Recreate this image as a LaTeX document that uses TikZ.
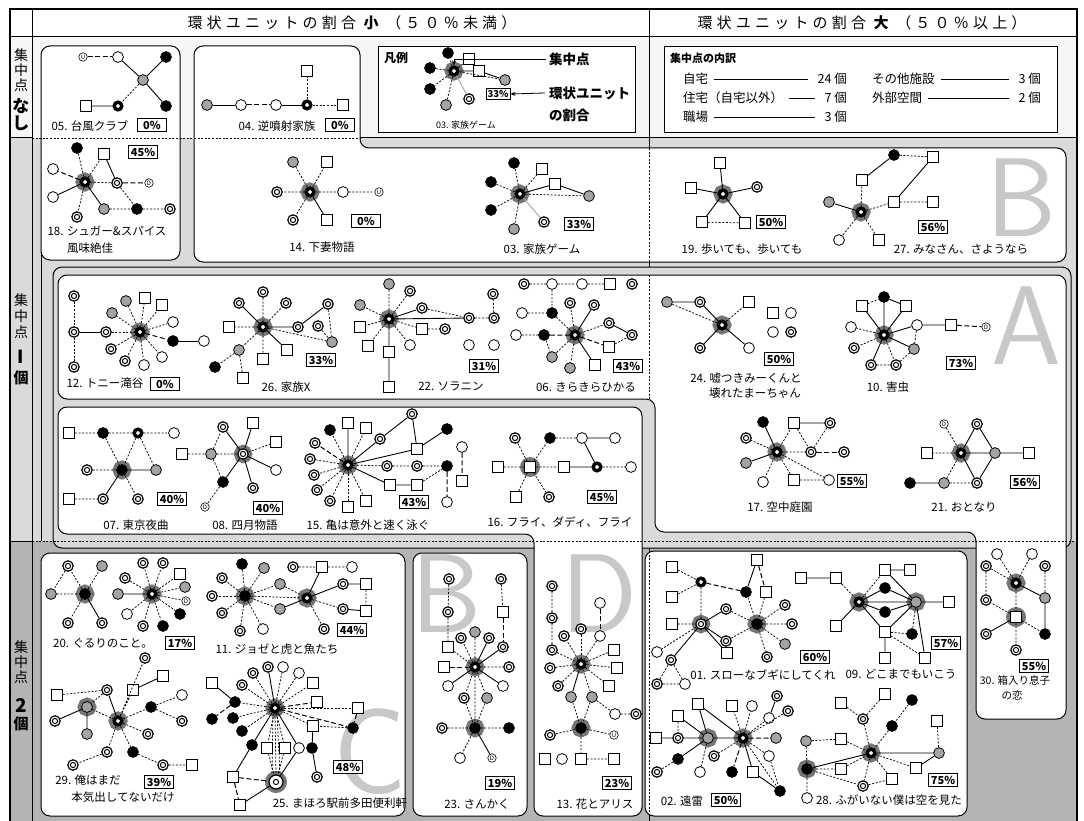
\documentclass[tikz,border=0pt]{standalone}
\usepackage{fontspec}
\setmainfont{Noto Sans CJK JP}
\newfontfamily\hdr[LetterSpace=28]{Noto Sans CJK JP}
\usetikzlibrary{arrows.meta}
\definecolor{lbg}{HTML}{DADADA}
\definecolor{dbg}{HTML}{B4B4B4}
\definecolor{tbg}{HTML}{F6F6F6}
\definecolor{haloc}{HTML}{767676}
\definecolor{gfill}{HTML}{A4A4A4}
\definecolor{letc}{HTML}{C8C8C8}
\tikzset{
 nbase/.style={circle, draw=black, line width=0.8pt, minimum size=10.8pt, inner sep=0pt},
 wc/.style={nbase, fill=white},
 gc/.style={nbase, fill=gfill},
 bc/.style={nbase, fill=black},
 dc/.style={circle, draw=black, line width=1.2pt, minimum size=10.4pt, inner sep=0pt, fill=white,
   path picture={\draw[line width=1pt] (path picture bounding box.center) circle (2.6pt);}},
 sq/.style={rectangle, draw=black, line width=0.8pt, minimum size=11pt, inner sep=0pt, fill=white},
 lc/.style={circle, draw=black, line width=0.6pt, minimum size=8.5pt, inner sep=0pt, fill=white, font=\fontsize{6}{6}\selectfont},
 br/.style={circle, draw=black, line width=3.4pt, minimum size=7.6pt, inner sep=0pt, fill=white},
 ctr/.style={br, preaction={draw=haloc, line width=11pt}},
 bctr/.style={bc, preaction={draw=haloc, line width=8pt}},
 gctr/.style={gc, preaction={draw=haloc, line width=8pt}},
 dctr/.style={dc, preaction={draw=haloc, line width=8pt}},
 sl/.style={line width=0.9pt},
 ds/.style={line width=0.75pt, dash pattern=on 2pt off 1.6pt},
 ld/.style={line width=1pt, dash pattern=on 5pt off 2.5pt},
 gl/.style={line width=0.9pt, draw=gfill},
 capt/.style={font=\fontsize{11.5}{12}\selectfont, inner sep=0pt},
 pct/.style={draw=black, line width=0.8pt, fill=white, font=\bfseries\fontsize{11}{11}\selectfont, inner sep=0pt, minimum width=29pt, minimum height=13pt},
 panel/.style={draw=black, line width=1pt, fill=white, rounded corners=9pt},
 bigl/.style={text=letc, font=\sffamily\fontsize{112}{112}\selectfont, inner sep=0pt},
 vt/.style={font=\fontsize{14}{14}\selectfont, inner sep=0pt},
 vb/.style={font=\bfseries\fontsize{17}{17}\selectfont, inner sep=0pt},
 ent/.style={font=\fontsize{12.5}{13}\selectfont, inner sep=0pt},
 lgl/.style={font=\bfseries\fontsize{13.5}{14}\selectfont, inner sep=0pt, anchor=west},
}
\begin{document}
\begin{tikzpicture}[x=1pt,y=-1pt]
\useasboundingbox (0,0) rectangle (1084,821);
\clip (0,0) rectangle (1084,821);
\fill[white] (0,0) rectangle (1084,821);
\fill[tbg] (10,37) rectangle (1077,138);
\fill[lbg] (10,138) rectangle (1077,541);
\fill[dbg] (10,541) rectangle (1077,830);
% grid
\draw[line width=1.2pt] (10,830) -- (10,9) -- (1077,9) -- (1077,830);
\draw[line width=1pt] (10,37) -- (1077,37);
\draw[line width=1pt] (32,9) -- (32,830);
\draw[line width=1pt] (649,9) -- (649,830);
\draw[line width=1pt] (41,255) -- (41,541);
% panels
\draw[panel] (41,46) rectangle (180,260);
\draw[panel] (194,46) -- (360,46) -- (360,148) -- (1066,148) -- (1066,262) -- (194,262) -- cycle;
\draw[line width=0.8pt, fill=white] (378,46) rectangle (635,132);
\draw[line width=0.8pt, fill=white] (664,46) rectangle (1057,132);
\draw[line width=1pt, fill=lbg, rounded corners=9pt] (53,267) rectangle (1071,548);
\draw[panel] (58,275) -- (1066,275) -- (1066,719) -- (976,719) -- (976,532) -- (655,532) -- (655,399) -- (58,399) -- cycle;
\draw[panel] (58,407) -- (642,407) -- (642,816) -- (534,816) -- (534,534) -- (58,534) -- cycle;
\draw[panel] (41,553) rectangle (405,816);
\draw[panel] (413,553) rectangle (527,816);
\draw[panel] (645,551) rectangle (967,816);
% separators
\draw[line width=1pt] (10,138) -- (32,138);
\draw[ds] (32,138) -- (360,138);
\draw[line width=1pt] (360,138) -- (1077,138);
\draw[line width=1pt] (10,541) -- (32,541);
\draw[ds] (32,541) -- (1077,541);
\draw[ds] (649,148) -- (649,262);
\draw[ds] (649,275) -- (649,399);
\draw[ds] (649,551) -- (649,816);
% big letters
\node[bigl] (LB1) at (1022,198) {B};
\node[bigl] (LA) at (1026,326) {A};
\node[bigl] (LB2) at (447,594) {B};
\node[bigl] (LD) at (599,594) {D};
\node[bigl, font=\sffamily\fontsize{122}{122}\selectfont] (LC) at (370,752) {C};
% headers
\node[font=\hdr\fontsize{15}{15}\selectfont, inner sep=0pt] (hdrL) at (352,23) {環状ユニットの割合 {\bfseries 小} （５０％未満）};
\node[font=\hdr\fontsize{15}{15}\selectfont, inner sep=0pt] (hdrR) at (862,23) {環状ユニットの割合 {\bfseries 大} （５０％以上）};
% left column
\node[vt] (v1a) at (21,55) {集};
\node[vt] (v1b) at (21,70) {中};
\node[vt] (v1c) at (21,85) {点};
\node[vb] (v1d) at (21,106) {な};
\node[vb] (v1e) at (21,123) {し};
\node[vt] (v2a) at (21,300) {集};
\node[vt] (v2b) at (21,316) {中};
\node[vt] (v2c) at (21,332) {点};
\node[vb, font=\bfseries\fontsize{18}{18}\selectfont] (v2d) at (21,357) {I};
\node[vt, font=\bfseries\fontsize{15}{15}\selectfont] (v2e) at (21,378) {個};
\node[vt] (v3a) at (21,647) {集};
\node[vt] (v3b) at (21,662) {中};
\node[vt] (v3c) at (21,677) {点};
\node[vb, font=\bfseries\fontsize{19}{19}\selectfont] (v3d) at (21,705) {2};
\node[vt, font=\bfseries\fontsize{15}{15}\selectfont] (v3e) at (21,724) {個};
% legend
\node[font=\bfseries\fontsize{12}{12}\selectfont, inner sep=0pt] (lgt) at (396,58) {凡例};
\node[ctr] (l0) at (454,71) {};
\node[bc] (l1) at (448,53) {};
\node[bc] (l2) at (430,68) {};
\node[bc] (l3) at (430,89) {};
\node[gc] (l4) at (446,105) {};
\node[sq] (l5) at (469,59) {};
\node[sq] (l6) at (479,71) {};
\node[gc] (l7) at (505,80) {};
\node[dc] (l8) at (469,99) {};
\foreach \t in {l1,l2,l3,l4,l5,l7} \draw[ds] (l0) -- (\t);
\draw[sl] (l0) -- (l6) -- (l7);
\draw[gl] (l0) -- (l8);
\node[pct, font=\bfseries\fontsize{9.5}{9.5}\selectfont, minimum width=24pt, minimum height=11pt] (plg) at (498,94) {33\%};
\node[lgl] (lbl1) at (549,59) {集中点};
\node[lgl] (lbl2) at (549,93) {環状ユニット};
\node[lgl] (lbl3) at (549,115) {の割合};
\node[font=\fontsize{9}{9}\selectfont, inner sep=0pt] (lgc) at (466,125) {03. 家族ゲーム};
\draw[line width=0.8pt, -{Stealth[length=5pt,width=4pt]}] ([xshift=-3pt]lbl1.west) -- (l0.north |- lbl1.west) -- (l0.north);
\draw[line width=0.8pt, -{Stealth[length=5pt,width=4pt]}] ([xshift=-4pt]lbl2.west) -- (plg.east);
% breakdown
\node[font=\bfseries\fontsize{11}{11}\selectfont, inner sep=0pt, anchor=west] (bdt) at (670,58) {集中点の内訳};
\node[ent, anchor=west] (k1) at (683,79) {自宅};
\node[ent, anchor=east] (k1n) at (847,79) {24 個};
\node[ent, anchor=west] (k2) at (683,98) {住宅（自宅以外）};
\node[ent, anchor=east] (k2n) at (847,98) {7 個};
\node[ent, anchor=west] (k3) at (683,117) {職場};
\node[ent, anchor=east] (k3n) at (847,117) {3 個};
\node[ent, anchor=west] (k4) at (872,79) {その他施設};
\node[ent, anchor=east] (k4n) at (1041,79) {3 個};
\node[ent, anchor=west] (k5) at (872,98) {外部空間};
\node[ent, anchor=east] (k5n) at (1041,98) {2 個};
\foreach \p in {k1,k2,k3,k4,k5} \draw[line width=0.7pt] ([xshift=6pt]\p.east) -- ([xshift=-9pt]\p n.west);
%%% 05
\node[lc] (a1) at (83,57) {U};
\node[wc] (a2) at (118,57) {};
\node[bc] (a3) at (166,57) {};
\node[gc] (a4) at (143,80) {};
\node[sq] (a5) at (86,106) {};
\node[br] (a6) at (118,106) {};
\node[bc] (a7) at (166,106) {};
\draw[ld] (a1) -- (a2);
\draw[sl] (a2) -- (a4) (a3) -- (a4) (a4) -- (a7) (a5) -- (a6);
\draw[ds] (a4) -- (a6);
\node[capt] (t05) at (90,126) {05. 台風クラブ};
\node[pct] (p05) at (152,125) {0\%};
%%% 04
\node[gc] (b1) at (207,105) {};
\node[wc] (b2) at (241,105) {};
\node[wc] (b3) at (276,105) {};
\node[br] (b4) at (307,105) {};
\node[sq] (b5) at (343,105) {};
\node[sq] (b6) at (307,71) {};
\draw[sl] (b1) -- (b2) (b3) -- (b4);
\draw[ld] (b2) -- (b3);
\draw[ds] (b4) -- (b5) (b4) -- (b6);
\node[capt] (t04) at (277,126) {04. 逆噴射家族};
\node[pct] (p04) at (340,125) {0\%};
%%% 18
\node[ctr] (c18) at (85,182) {};
\node[bc] (c1) at (77,148) {};
\node[sq] (c2) at (104,154) {};
\node[wc] (c3) at (53,169) {};
\node[dc] (c4) at (117,183) {};
\node[lc] (c5) at (149,183) {D};
\node[wc] (c6) at (53,197) {};
\node[gc] (c7) at (104,209) {};
\node[bc] (c8) at (137,209) {};
\node[dc] (c9) at (170,209) {};
\node[dc] (c10) at (77,217) {};
\draw[ds] (c18) -- (c1) (c18) -- (c2) (c18) -- (c4) (c4) -- (c8) (c7) -- (c8) (c8) -- (c9) (c18) -- (c10);
\draw[sl] (c2) -- (c4) (c18) -- (c6) (c18) -- (c7);
\draw[ld] (c18) -- (c3) (c4) -- (c5);
\node[pct] (p18) at (143,152) {45\%};
\node[capt] (t18a) at (107,231) {18. シュガー\&スパイス};
\node[capt] (t18b) at (90,248) {風味絶佳};
%%% 14
\node[ctr] (d0) at (310,192) {};
\node[gc] (d1) at (293,162) {};
\node[sq] (d2) at (327,162) {};
\node[dc] (d3) at (277,192) {};
\node[wc] (d4) at (343,192) {};
\node[lc] (d5) at (379,192) {U};
\node[dc] (d6) at (293,220) {};
\node[sq] (d7) at (327,220) {};
\draw[ds] (d0) -- (d1) (d0) -- (d2) (d0) -- (d3) (d0) -- (d4) (d4) -- (d5) (d0) -- (d6);
\draw[sl] (d0) -- (d7);
\node[pct] (p14) at (366,221) {0\%};
\node[capt] (t14) at (322,247) {14. 下妻物語};
%%% 03
\node[ctr] (e0) at (520,194) {};
\node[bc] (e1) at (514,163) {};
\node[sq] (e2) at (542,169) {};
\node[bc] (e3) at (491,182) {};
\node[sq] (e4) at (555,184) {};
\node[gc] (e5) at (589,196) {};
\node[bc] (e6) at (491,210) {};
\node[dc] (e7) at (544,222) {};
\node[gc] (e8) at (514,229) {};
\draw[ds] (e0) -- (e1) (e0) -- (e2) (e0) -- (e3) (e0) -- (e5) (e0) -- (e6) (e0) -- (e8);
\draw[sl] (e0) -- (e4) -- (e5);
\draw[gl] (e0) -- (e7);
\node[pct] (p03) at (579,224) {33\%};
\node[capt] (t03) at (542,249) {03. 家族ゲーム};
%%% 19
\node[ctr] (f0) at (723,194) {};
\node[sq] (f1) at (720,163) {};
\node[sq] (f2) at (691,188) {};
\node[dc] (f3) at (757,187) {};
\node[sq] (f4) at (702,222) {};
\node[sq] (f5) at (745,223) {};
\draw[sl] (f0) -- (f1) (f0) -- (f2) (f0) -- (f3) (f0) -- (f4) (f0) -- (f5);
\draw[ds] (f4) -- (f5);
\node[pct] (p19) at (771,222) {50\%};
\node[capt] (t19) at (742,249) {19. 歩いても、歩いても};
%%% 27
\node[ctr] (g0) at (861,212) {};
\node[bc] (g1) at (894,155) {};
\node[sq] (g2) at (933,157) {};
\node[sq] (g3) at (862,180) {};
\node[gc] (g4) at (829,202) {};
\node[sq] (g5) at (894,202) {};
\node[sq] (g6) at (933,202) {};
\node[wc] (g7) at (839,240) {};
\node[sq] (g8) at (879,240) {};
\draw[sl] (g3) -- (g1) (g2) -- (g5) (g0) -- (g4);
\draw[ds] (g1) -- (g2) (g0) -- (g3) (g0) -- (g5) (g5) -- (g6) (g0) -- (g7) (g0) -- (g8);
\node[pct] (p27) at (933,227) {56\%};
\node[capt] (t27) at (961,249) {27. みなさん、さようなら};
%%% 12
\node[ctr] (h0) at (140,332) {};
\node[dc] (h1) at (74,296) {};
\node[gc] (h2) at (126,301) {};
\node[sq] (h3) at (145,298) {};
\node[sq] (h4) at (162,305) {};
\node[gc] (h5) at (112,313) {};
\node[wc] (h6) at (173,322) {};
\node[dc] (h7) at (74,332) {};
\node[dc] (h8) at (106,332) {};
\node[bc] (h9) at (173,341) {};
\node[wc] (h10) at (204,341) {};
\node[dc] (h11) at (111,349) {};
\node[wc] (h12) at (162,357) {};
\node[dc] (h13) at (125,361) {};
\node[wc] (h14) at (144,365) {};
\node[dc] (h15) at (74,367) {};
\draw[ds] (h1) -- (h7) -- (h15);
\draw[sl] (h7) -- (h8) (h9) -- (h10);
\draw[ds] (h8) -- (h0);
\foreach \t in {h2,h3,h4,h5,h6,h11,h12,h13,h14} \draw[ds] (h0) -- (\t);
\draw[ld] (h0) -- (h9);
\node[capt] (t12) at (105,383) {12. トニー滝谷};
\node[pct] (p12) at (165,384) {0\%};
%%% 26
\node[ctr] (i0) at (263,327) {};
\node[dc] (i1) at (263,292) {};
\node[dc] (i2) at (239,303) {};
\node[dc] (i3) at (286,303) {};
\node[dc] (i4) at (328,304) {};
\node[sq] (i5) at (229,327) {};
\node[dc] (i6) at (298,327) {};
\node[dc] (i7) at (318,326) {};
\node[gc] (i8) at (332,342) {};
\node[sq] (i9) at (287,350) {};
\node[gc] (i10) at (239,350) {};
\node[sq] (i11) at (263,359) {};
\node[bc] (i12) at (215,367) {};
\node[sq] (i13) at (243,378) {};
\draw[ds] (i0) -- (i1) (i0) -- (i3) (i0) -- (i5) (i4) -- (i8) (i7) -- (i8) (i0) -- (i8) (i0) -- (i10) (i10) -- (i12) (i10) -- (i13) (i0) -- (i11);
\draw[sl] (i0) -- (i2) (i0) -- (i6) -- (i4) (i0) -- (i9);
\node[pct] (p26) at (321,360) {33\%};
\node[capt] (t26) at (286,387) {26. 家族X};
%%% 22
\node[ctr] (j0) at (389,319) {};
\node[gc] (j1) at (360,305) {};
\node[gc] (j2) at (389,284) {};
\node[dc] (j3) at (410,291) {};
\node[dc] (j4) at (422,308) {};
\node[dc] (j5) at (493,294) {};
\node[dc] (j6) at (494,318) {};
\node[dc] (j7) at (469,318) {};
\node[sq] (j8) at (360,327) {};
\node[sq] (j9) at (422,329) {};
\node[dc] (j10) at (445,329) {};
\node[wc] (j11) at (410,345) {};
\node[wc] (j12) at (469,345) {};
\node[wc] (j13) at (494,345) {};
\node[sq] (j14) at (368,346) {};
\node[sq] (j15) at (389,352) {};
\node[sq] (j16) at (389,387) {};
\draw[ds] (j0) -- (j1) (j0) -- (j2) (j0) -- (j3) (j4) -- (j7) (j7) -- (j6) -- (j5) (j0) -- (j8) (j0) -- (j9) -- (j10) (j0) -- (j11) (j0) -- (j14);
\draw[sl] (j0) -- (j4) (j0) -- (j7) (j0) -- (j15) -- (j16);
\node[pct] (p22) at (484,366) {31\%};
\node[capt] (t22) at (451,386) {22. ソラニン};
%%% 06
\node[ctr] (k0) at (575,335) {};
\node[dc] (kk1) at (524,284) {};
\node[wc] (kk2) at (552,284) {};
\node[wc] (kk3) at (582,284) {};
\node[sq] (kk4) at (610,284) {};
\node[dc] (kk5) at (632,284) {};
\node[dc] (kk6) at (570,303) {};
\node[dc] (kk7) at (594,305) {};
\node[wc] (kk8) at (522,313) {};
\node[bc] (kk9) at (552,313) {};
\node[dc] (kk10) at (609,323) {};
\node[wc] (kk11) at (516,335) {};
\node[bc] (kk12) at (544,335) {};
\node[dc] (kk13) at (632,335) {};
\node[sq] (kk14) at (609,347) {};
\node[gc] (kk15) at (552,357) {};
\node[gc] (kk16) at (570,368) {};
\node[sq] (kk17) at (595,365) {};
\draw[ds] (kk1) -- (kk2) -- (kk3) -- (kk4) (kk2) -- (kk9) (kk8) -- (kk9) (kk9) -- (k0) (k0) -- (kk6) (k0) -- (kk10) (kk14) -- (kk13) (kk11) -- (kk12) (k0) -- (kk15) (kk12) -- (kk15) (k0) -- (kk16);
\draw[sl] (k0) -- (kk7) (kk10) -- (kk13) (k0) -- (kk17);
\draw[ld] (k0) -- (kk14) (kk12) -- (k0);
\node[pct] (p06) at (628,366) {43\%};
\node[capt] (t06) at (586,387) {06. きらきらひかる};
%%% 24
\node[ctr] (m0) at (722,325) {};
\node[gc] (m1) at (667,302) {};
\node[dc] (m2) at (700,302) {};
\node[sq] (m3) at (749,302) {};
\node[dc] (m4) at (700,348) {};
\node[wc] (m5) at (749,348) {};
\node[sq] (m6) at (773,313) {};
\node[wc] (m7) at (791,313) {};
\node[wc] (m8) at (773,332) {};
\node[dc] (m9) at (791,332) {};
\draw[sl] (m1) -- (m2) -- (m0) (m0) -- (m4) (m0) -- (m5);
\draw[ds] (m1) -- (m0) (m0) -- (m3);
\node[pct] (p24) at (779,359) {50\%};
\node[capt] (t24a) at (746,378) {24. 嘘つきみーくんと};
\node[capt] (t24b) at (755,393) {壊れたまーちゃん};
%%% 10
\node[ctr] (o0) at (884,335) {};
\node[bc] (o1) at (884,297) {};
\node[sq] (o2) at (862,306) {};
\node[sq] (o3) at (906,306) {};
\node[wc] (o4) at (851,327) {};
\node[wc] (o5) at (917,325) {};
\node[sq] (o6) at (951,325) {};
\node[lc] (o7) at (986,327) {D};
\node[dc] (o8) at (854,348) {};
\node[gc] (o9) at (914,349) {};
\node[dc] (o10) at (871,365) {};
\node[dc] (o11) at (896,365) {};
\draw[ds] (o2) -- (o1) (o0) -- (o4) (o5) -- (o9) (o0) -- (o8) (o0) -- (o11) (o10) -- (o11) (o9) -- (o11);
\draw[sl] (o1) -- (o3) (o0) -- (o1) (o0) -- (o2) (o0) -- (o3) (o0) -- (o5) -- (o6) (o0) -- (o9) (o0) -- (o10);
\draw[ld] (o6) -- (o7);
\node[pct] (p10) at (961,363) {73\%};
\node[capt] (t10) at (888,387) {10. 害虫};
%%% 17
\node[ctr] (q0) at (777,452) {};
\node[bc] (q1) at (763,422) {};
\node[sq] (q2) at (794,423) {};
\node[dc] (q3) at (830,423) {};
\node[dc] (q4) at (746,438) {};
\node[dc] (q5) at (811,452) {};
\node[dc] (q6) at (844,452) {};
\node[gc] (q7) at (746,463) {};
\node[wc] (q8) at (763,482) {};
\node[sq] (q9) at (794,480) {};
\node[wc] (q10) at (829,480) {};
\draw[sl] (q0) -- (q1) (q2) -- (q3) (q0) -- (q7);
\draw[ds] (q0) -- (q2) (q2) -- (q5) (q3) -- (q5) (q0) -- (q4) (q0) -- (q5) (q0) -- (q8) (q0) -- (q9) -- (q10) (q0) -- (q10);
\draw[ld] (q5) -- (q6);
\node[pct] (p17) at (852,481) {55\%};
\node[capt] (t17) at (780,507) {17. 空中庭園};
%%% 21
\node[ctr] (r0) at (961,453) {};
\node[lc] (r1) at (944,424) {D};
\node[dc] (r2) at (977,424) {};
\node[sq] (r3) at (927,453) {};
\node[gc] (r4) at (995,453) {};
\node[sq] (r5) at (1029,453) {};
\node[bc] (r6) at (910,483) {};
\node[gc] (r7) at (944,483) {};
\node[dc] (r8) at (977,483) {};
\draw[ds] (r0) -- (r1) (r0) -- (r3) (r0) -- (r7) (r7) -- (r8);
\draw[sl] (r0) -- (r2) -- (r4) (r0) -- (r4) -- (r5) (r0) -- (r8) (r4) -- (r8) (r6) -- (r7);
\node[pct] (p21) at (1025,482) {56\%};
\node[capt] (t21) at (964,507) {21. おとなり};
%%% 07
\node[bctr] (s0) at (122,470) {};
\node[sq] (s1) at (69,433) {};
\node[bc] (s2) at (103,433) {};
\node[br] (s3) at (138,433) {};
\node[wc] (s4) at (174,433) {};
\node[dc] (s5) at (87,470) {};
\node[gc] (s6) at (156,470) {};
\node[sq] (s7) at (69,499) {};
\node[dc] (s8) at (103,499) {};
\node[dc] (s9) at (138,499) {};
\draw[ds] (s1) -- (s2) -- (s3) -- (s4) (s2) -- (s0) (s3) -- (s0) (s3) -- (s6) (s5) -- (s0) (s7) -- (s8) (s0) -- (s9);
\draw[sl] (s0) -- (s6) (s0) -- (s8);
\node[pct] (p07) at (172,499) {40\%};
\node[capt] (t07) at (136,525) {07. 東京夜曲};
%%% 08
\node[dctr] (u0) at (243,454) {};
\node[sq] (u1) at (253,423) {};
\node[dc] (u2) at (223,427) {};
\node[sq] (u3) at (276,442) {};
\node[sq] (u4) at (182,454) {};
\node[gc] (u5) at (211,454) {};
\node[wc] (u6) at (276,470) {};
\node[bc] (u7) at (223,482) {};
\node[dc] (u8) at (253,488) {};
\node[lc] (u9) at (205,507) {D};
\draw[ds] (u4) -- (u5) -- (u0) (u5) -- (u2) (u0) -- (u3) (u5) -- (u7) (u7) -- (u9);
\draw[sl] (u2) -- (u0) (u0) -- (u1) (u0) -- (u6) (u0) -- (u7) (u0) -- (u8);
\node[pct] (p08) at (268,508) {40\%};
\node[capt] (t08) at (245,525) {08. 四月物語};
%%% 15
\node[ctr] (v0) at (348,465) {};
\node[sq] (vv1) at (348,423) {};
\node[bc] (vv2) at (330,430) {};
\node[sq] (vv3) at (366,428) {};
\node[dc] (vv4) at (315,443) {};
\node[dc] (vv5) at (310,459) {};
\node[dc] (vv6) at (314,475) {};
\node[dc] (vv7) at (317,490) {};
\node[dc] (vv8) at (330,501) {};
\node[sq] (vv9) at (348,507) {};
\node[sq] (vv10) at (366,501) {};
\node[dc] (vv11) at (380,439) {};
\node[dc] (vv12) at (412,414) {};
\node[bc] (vv13) at (447,429) {};
\node[sq] (vv14) at (417,449) {};
\node[dc] (vv15) at (387,466) {};
\node[dc] (vv16) at (417,466) {};
\node[bc] (vv17) at (447,466) {};
\node[wc] (vv18) at (462,447) {};
\node[sq] (vv19) at (462,481) {};
\node[sq] (vv20) at (390,485) {};
\node[sq] (vv21) at (417,485) {};
\node[wc] (vv22) at (447,502) {};
\draw[sl] (v0) -- (vv1) (v0) -- (vv11) -- (vv12) -- (vv14) -- (vv13) (v0) -- (vv14) (v0) -- (vv20) -- (vv21);
\foreach \t in {vv2,vv3,vv5,vv6,vv7,vv8,vv9,vv10} \draw[ds] (v0) -- (\t);
\draw[ld] (v0) -- (vv4) (vv17) -- (vv22) (vv18) -- (vv19);
\draw[ds] (v0) -- (vv15) -- (vv16) -- (vv17) (vv21) -- (vv17);
\node[pct] (p15) at (414,502) {43\%};
\node[capt] (t15) at (368,525) {15. 亀は意外と速く泳ぐ};
%%% 16
\fill[haloc] (530,467) circle (10pt);
\node[sq] (w0) at (530,467) {};
\node[dc] (w1) at (515,438) {};
\node[bc] (w2) at (550,438) {};
\node[wc] (w3) at (582,438) {};
\node[wc] (w4) at (615,438) {};
\node[sq] (w5) at (498,467) {};
\node[sq] (w6) at (564,467) {};
\node[br] (w7) at (597,467) {};
\node[wc] (w8) at (631,467) {};
\node[sq] (w9) at (516,497) {};
\node[dc] (w10) at (549,497) {};
\draw[ds] (w0) -- (w1) (w0) -- (w2) -- (w3) (w5) -- (w0) (w0) -- (w6) (w7) -- (w8) (w0) -- (w9) (w0) -- (w10);
\draw[sl] (w3) -- (w4) (w3) -- (w7) (w6) -- (w7);
\node[pct] (p16) at (602,497) {45\%};
\node[capt] (t16) at (560,522) {16. フライ、ダディ、フライ};
%%% 20
\node[bctr] (x0) at (85,594) {};
\node[ctr] (y0) at (152,594) {};
\node[dc] (x1) at (68,566) {};
\node[gc] (x2) at (102,566) {};
\node[dc] (x3) at (143,563) {};
\node[dc] (x4) at (163,563) {};
\node[sq] (x5) at (180,574) {};
\node[dc] (x6) at (125,578) {};
\node[gc] (x7) at (51,594) {};
\node[gc] (x8) at (118,594) {};
\node[gc] (x9) at (185,587) {};
\node[lc] (x10) at (186,601) {D};
\node[wc] (x11) at (127,614) {};
\node[bc] (x12) at (180,614) {};
\node[dc] (x13) at (68,623) {};
\node[dc] (x14) at (102,623) {};
\node[dc] (x15) at (143,626) {};
\node[bc] (x16) at (163,626) {};
\draw[ds] (x0) -- (x1) (x0) -- (x2) (x1) -- (x7) (x7) -- (x0) (x0) -- (x13);
\draw[sl] (x0) -- (x14) (x8) -- (y0);
\foreach \t in {x3,x4,x5,x6,x9,x10,x11,x12,x15,x16} \draw[ds] (y0) -- (\t);
\node[pct] (p20) at (180,643) {17\%};
\node[capt] (t20) at (103,643) {20. ぐるりのこと。};
%%% 11
\node[bctr] (z0) at (245,596) {};
\node[ctr] (zc) at (307,598) {};
\node[bc] (z1) at (242,564) {};
\node[gc] (z2) at (264,568) {};
\node[dc] (z3) at (293,567) {};
\node[sq] (z4) at (322,567) {};
\node[wc] (z5) at (352,567) {};
\node[dc] (z6) at (222,578) {};
\node[gc] (z7) at (280,584) {};
\node[dc] (z8) at (343,584) {};
\node[sq] (z9) at (366,584) {};
\node[dc] (z10) at (212,596) {};
\node[gc] (z11) at (280,609) {};
\node[dc] (z12) at (343,609) {};
\node[sq] (z13) at (366,611) {};
\node[dc] (z14) at (222,613) {};
\node[dc] (z15) at (240,631) {};
\node[wc] (z16) at (263,629) {};
\node[dc] (z17) at (324,629) {};
\foreach \t in {z1,z2,z6,z10,z14,z15,z16,z7,z11,zc} \draw[ds] (z0) -- (\t);
\draw[sl] (z11) -- (zc) (z4) -- (zc) (zc) -- (z8) -- (z9) (z12) -- (z13);
\draw[ds] (z7) -- (zc) (z3) -- (z4) -- (z5) (zc) -- (z12) (z9) -- (z13) (zc) -- (z17);
\node[pct] (p11) at (352,630) {44\%};
\node[capt] (t11) at (277,649) {11. ジョゼと虎と魚たち};
%%% 29
\node[gctr] (ab) at (87,707) {};
\node[ctr] (ac) at (118,721) {};
\node[dc] (aa1) at (145,658) {};
\node[sq] (aa2) at (163,676) {};
\node[sq] (aa3) at (133,690) {};
\node[dc] (aa4) at (107,690) {};
\node[sq] (aa5) at (57,695) {};
\node[wc] (aa6) at (182,695) {};
\node[bc] (aa7) at (151,707) {};
\node[dc] (aa8) at (55,721) {};
\node[dc] (aa9) at (182,721) {};
\node[gc] (aa10) at (87,734) {};
\node[dc] (aa11) at (148,734) {};
\node[dc] (aa12) at (107,752) {};
\node[bc] (aa13) at (133,752) {};
\node[dc] (aa14) at (73,765) {};
\node[dc] (aa15) at (163,765) {};
\node[sq] (aa16) at (192,765) {};
\draw[ds] (aa5) -- (aa4) (aa4) -- (ab) (ab) -- (ac) (ac) -- (aa1) (ac) -- (aa3) (ac) -- (aa7) -- (aa6) (aa7) -- (aa9) (ac) -- (aa11) (ac) -- (aa12) -- (aa14) (ac) -- (aa13) -- (aa15) -- (aa16);
\draw[sl] (aa4) -- (ac) (ab) -- (aa8) (ab) -- (aa10) (aa3) -- (aa2);
\node[pct] (p29) at (159,782) {39\%};
\node[capt] (t29a) at (88,780) {29. 俺はまだ};
\node[capt] (t29b) at (123,797) {本気出してないだけ};
%%% 25
\node[ctr] (b0) at (275,708) {};
\node[dctr, minimum size=14pt] (bb) at (276,782) {};
\node[dc] (ba1) at (268,667) {};
\node[wc] (ba2) at (283,667) {};
\node[dc] (ba3) at (253,673) {};
\node[wc] (ba4) at (299,673) {};
\node[dc] (ba5) at (242,685) {};
\node[sq] (ba6) at (313,683) {};
\node[sq] (ba7) at (212,683) {};
\node[bc] (ba8) at (235,702) {};
\node[sq] (ba9) at (317,702) {};
\node[sq] (ba10) at (358,708) {};
\node[bc] (ba11) at (212,719) {};
\node[bc] (ba12) at (233,718) {};
\node[bc] (ba13) at (242,731) {};
\node[sq] (ba14) at (313,726) {};
\node[bc] (ba15) at (353,728) {};
\node[bc] (ba16) at (252,745) {};
\node[sq] (ba17) at (267,748) {};
\node[sq] (ba18) at (285,748) {};
\node[wc] (ba19) at (299,748) {};
\node[bc] (ba20) at (312,748) {};
\node[sq] (ba21) at (233,777) {};
\node[dc] (ba22) at (317,777) {};
\node[sq] (ba23) at (240,805) {};
\draw[sl] (ba7) -- (ba8) (b0) -- (ba1) (ba14) -- (ba20) -- (ba22) (b0) -- (ba16) -- (ba21) (b0) -- (ba19) -- (bb) (ba23) -- (bb);
\draw[ld] (ba8) -- (ba11) (b0) -- (ba9) (ba10) -- (ba15) (b0) -- (ba15) (ba21) -- (bb) (ba21) -- (ba23);
\foreach \t in {ba8,ba2,ba3,ba4,ba5,ba6,ba10,ba12,ba13,ba14,ba17,ba18} \draw[ds] (b0) -- (\t);
\draw[ds] (ba15) -- (ba14) (ba17) -- (bb) (ba18) -- (bb);
\draw[ds] (b0.south) -- (bb.north) ([xshift=-2pt]b0.south) -- ([xshift=-4pt]bb.north) ([xshift=2pt]b0.south) -- ([xshift=4pt]bb.north);
\node[pct] (p25) at (348,767) {48\%};
\node[capt] (t25) at (340,803) {25. まほろ駅前多田便利軒};
%%% 23
\node[ctr] (c0) at (475,667) {};
\node[bctr] (cb) at (475,728) {};
\node[dc] (ca1) at (449,579) {};
\node[dc] (ca2) at (501,579) {};
\node[dc] (ca3) at (448,612) {};
\node[sq] (ca4) at (503,612) {};
\node[gc] (ca5) at (475,632) {};
\node[dc] (ca6) at (461,638) {};
\node[dc] (ca7) at (489,638) {};
\node[sq] (ca8) at (448,647) {};
\node[dc] (ca9) at (503,647) {};
\node[sq] (ca10) at (444,667) {};
\node[dc] (ca11) at (509,667) {};
\node[wc] (ca12) at (448,686) {};
\node[wc] (ca13) at (503,686) {};
\node[dc] (ca14) at (464,698) {};
\node[gc] (ca15) at (487,698) {};
\node[dc] (ca16) at (442,728) {};
\node[bc] (ca17) at (509,728) {};
\node[wc] (ca18) at (460,758) {};
\node[lc] (ca19) at (492,758) {D};
\draw[ds] (ca1) -- (ca3) -- (ca8) -- (c0) (ca2) -- (ca4) (c0) -- (ca5) (c0) -- (ca6) (c0) -- (ca11) (c0) -- (ca14) (c0) -- (ca15) (c0) -- (cb) (ca14) -- (cb) (ca15) -- (cb) (ca16) -- (cb) (cb) -- (ca17) (cb) -- (ca18);
\draw[ld] (ca4) -- (ca9) (ca10) -- (c0);
\draw[sl] (ca9) -- (c0) (c0) -- (ca7) (c0) -- (ca12) (c0) -- (ca13) (cb) -- (ca19);
\node[pct] (p23) at (500,783) {19\%};
\node[capt] (t23) at (477,804) {23. さんかく};
%%% 13
\node[ctr] (dd0) at (581,664) {};
\node[bctr] (db) at (581,728) {};
\node[dc] (da1) at (552,586) {};
\node[wc] (da2) at (600,603) {};
\node[dc] (da3) at (552,618) {};
\node[dc] (da4) at (581,629) {};
\node[dc] (da5) at (564,636) {};
\node[wc] (da6) at (600,636) {};
\node[dc] (da7) at (552,650) {};
\node[sq] (da8) at (614,650) {};
\node[dc] (da9) at (550,668) {};
\node[sq] (da10) at (617,668) {};
\node[dc] (da11) at (558,686) {};
\node[sq] (da12) at (609,686) {};
\node[gc] (da13) at (571,697) {};
\node[gc] (da14) at (592,697) {};
\node[wc] (da15) at (615,714) {};
\node[dc] (da16) at (636,714) {};
\node[dc] (da17) at (550,735) {};
\node[lc] (da18) at (614,735) {U};
\node[sq] (da19) at (545,759) {};
\node[wc] (da20) at (562,759) {};
\node[sq] (da21) at (581,759) {};
\node[sq] (da22) at (614,759) {};
\draw[ds] (da1) -- (da3) -- (da7) -- (dd0) (da6) -- (dd0) (da14) -- (da15) -- (da16) (da13) -- (db) (da14) -- (db) (db) -- (da17) (db) -- (da18) (db) -- (da21) -- (da22);
\foreach \t in {da4,da5,da8,da9,da10,da11,da12,da14} \draw[ds] (dd0) -- (\t);
\draw[ld] (da2) -- (da6);
\draw[sl] (dd0) -- (da13);
\node[pct] (p13) at (617,783) {23\%};
\node[capt] (t13) at (595,804) {13. 花とアリス};
%%% 01
\node[dctr] (e01) at (701,624) {};
\node[bctr] (e02) at (757,624) {};
\node[sq] (ea1) at (757,560) {};
\node[sq] (ea2) at (672,567) {};
\node[br] (ea3) at (701,582) {};
\node[bc] (ea4) at (746,592) {};
\node[sq] (ea5) at (766,592) {};
\node[sq] (ea6) at (672,597) {};
\node[dc] (ea7) at (785,605) {};
\node[dc] (ea8) at (726,609) {};
\node[sq] (ea9) at (672,624) {};
\node[dc] (ea10) at (792,624) {};
\node[dc] (ea11) at (726,641) {};
\node[gc] (ea12) at (785,644) {};
\node[wc] (ea13) at (657,652) {};
\node[sq] (ea14) at (727,653) {};
\node[dc] (ea15) at (671,660) {};
\node[dc] (ea16) at (767,657) {};
\node[dc] (ea17) at (657,684) {};
\node[wc] (ea18) at (685,684) {};
\draw[ds] (ea2) -- (ea3) (ea6) -- (ea3) (ea3) -- (e01) (ea9) -- (e01) (ea8) -- (e02) (ea11) -- (e02) (ea4) -- (e02) (ea5) -- (e02) (e02) -- (ea7) (e02) -- (ea10) (e02) -- (ea12) (e02) -- (ea16) (e01) -- (ea13) (ea15) -- (ea17) (ea15) -- (ea18) (ea17) -- (ea18);
\draw[ld] (ea3) -- (ea4) (ea1) -- (ea5);
\draw[sl] (ea1) -- (ea4) (e01) -- (ea8) (e01) -- (ea11) (e01) -- (ea14) (e01) -- (ea15);
\node[pct] (p01) at (815,657) {60\%};
\node[capt] (t01) at (763,675) {01. スローなブギにしてくれ};
%%% 02
\node[gctr] (f01) at (708,738) {};
\node[ctr] (f02) at (743,738) {};
\node[sq] (fa1) at (698,704) {};
\node[sq] (fa2) at (732,706) {};
\node[wc] (fa3) at (752,706) {};
\node[dc] (fa4) at (777,696) {};
\node[dc] (fa5) at (788,711) {};
\node[sq] (fa6) at (678,716) {};
\node[wc] (fa7) at (769,718) {};
\node[sq] (fa8) at (656,738) {};
\node[dc] (fa9) at (678,738) {};
\node[gc] (fa10) at (776,738) {};
\node[dc] (fa11) at (714,756) {};
\node[wc] (fa12) at (769,756) {};
\node[bc] (fa13) at (678,759) {};
\node[wc] (fa14) at (700,772) {};
\node[bc] (fa15) at (732,772) {};
\node[sq] (fa16) at (753,772) {};
\node[dc] (fa17) at (657,772) {};
\node[bc] (fa18) at (780,791) {};
\draw[sl] (fa8) -- (fa9) -- (f01) (fa6) -- (f01) (fa1) -- (f01) (fa1) -- (f02) (f01) -- (f02) (fa4) -- (fa7) (f01) -- (fa13) (f02) -- (fa16) -- (fa18);
\draw[ds] (fa6) -- (fa9) (f02) -- (fa2) (f02) -- (fa3) (fa7) -- (f02) (fa5) -- (f02) (f02) -- (fa12) (fa13) -- (fa17) (f01) -- (fa14) (f02) -- (fa11) (f02) -- (fa18) (fa12) -- (fa18);
\draw[ld] (f02) -- (fa10) (f02) -- (fa15);
\node[capt] (t02) at (682,801) {02. 遠雷};
\node[pct] (p02) at (726,800) {50\%};
%%% 09
\node[ctr] (gg0) at (859,602) {};
\node[gctr] (gg1) at (916,602) {};
\node[sq] (ga1) at (801,578) {};
\node[sq] (ga2) at (836,578) {};
\node[sq] (ga3) at (885,570) {};
\node[sq] (ga4) at (910,570) {};
\node[bc] (ga5) at (885,588) {};
\node[sq] (ga6) at (949,602) {};
\node[bc] (ga7) at (885,612) {};
\node[sq] (ga8) at (836,626) {};
\node[sq] (ga9) at (885,632) {};
\node[bc] (ga10) at (912,634) {};
\node[sq] (ga11) at (885,658) {};
\node[sq] (ga12) at (925,658) {};
\draw[sl] (ga1) -- (ga2) (gg0) -- (ga5) -- (gg1) (ga3) -- (ga4) (ga3) -- (gg1) (gg0) -- (gg1) (gg0) -- (ga7) -- (gg1) (gg0) -- (ga8) (gg0) -- (ga9) -- (gg1) (gg1) -- (ga6) (ga9) -- (ga11) (gg1) -- (ga12);
\draw[ds] (ga2) -- (gg0) (gg0) -- (ga3) (gg1) -- (ga10) (ga9) -- (ga10) (ga9) -- (ga12);
\node[pct] (p09) at (946,643) {57\%};
\node[capt] (t09) at (901,674) {09. どこまでもいこう};
%%% 28
\node[ctr] (hh0) at (871,753) {};
\node[bctr] (hh1) at (807,769) {};
\node[sq] (ha1) at (841,703) {};
\node[sq] (ha2) at (885,694) {};
\node[bc] (ha3) at (912,700) {};
\node[dc] (ha4) at (863,719) {};
\node[sq] (ha5) at (937,721) {};
\node[bc] (ha6) at (892,726) {};
\node[gc] (ha7) at (806,741) {};
\node[sq] (ha8) at (841,739) {};
\node[gc] (ha9) at (939,753) {};
\node[sq] (ha10) at (841,769) {};
\node[sq] (ha11) at (916,768) {};
\node[dc] (ha12) at (863,786) {};
\node[sq] (ha13) at (892,779) {};
\node[wc] (ha14) at (807,798) {};
\draw[ds] (ha1) -- (ha4) -- (hh0) (ha2) -- (ha4) (ha3) -- (ha6) -- (hh0) (ha5) -- (ha9) (ha7) -- (ha8) -- (hh0) (ha7) -- (hh1) (hh1) -- (ha10) -- (hh0) (hh0) -- (ha11) (hh0) -- (ha12) (hh0) -- (ha13) (hh1) -- (ha12) (hh1) -- (ha14) (ha12) -- (ha13);
\draw[sl] (hh1) -- (hh0) -- (ha9) (ha11) -- (ha9);
\node[pct] (p28) at (943,780) {75\%};
\node[capt] (t28) at (889,800) {28. ふがいない僕は空を見た};
%%% 30
\node[ctr] (ii0) at (1016,583) {};
\fill[haloc] (1016,617) circle (10pt);
\node[sq] (iisq) at (1016,617) {};
\node[wc] (ia1) at (997,554) {};
\node[wc] (ia2) at (1032,554) {};
\node[dc] (ia3) at (986,566) {};
\node[dc] (ia4) at (1045,566) {};
\node[dc] (ia5) at (986,600) {};
\node[gc] (ia6) at (1045,598) {};
\node[dc] (ia7) at (986,634) {};
\node[bc] (ia8) at (1045,634) {};
\node[dc] (ia9) at (1016,650) {};
\draw[ds] (ia1) -- (ii0) (ia2) -- (ii0) (ia3) -- (ii0) (ia3) -- (ia5) (ii0) -- (iisq) (iisq) -- (ia5) (iisq) -- (ia8) (iisq) -- (ia9) (ia4) -- (ia6);
\draw[sl] (ii0) -- (ia6) -- (ia8) (iisq) -- (ia7);
\node[pct] (p30) at (1034,666) {55\%};
\node[capt, font=\fontsize{10.5}{11}\selectfont] (t30a) at (1015,680) {30. 箱入り息子};
\node[capt, font=\fontsize{10.5}{11}\selectfont] (t30b) at (1012,695) {の恋};
\end{tikzpicture}
\end{document}
